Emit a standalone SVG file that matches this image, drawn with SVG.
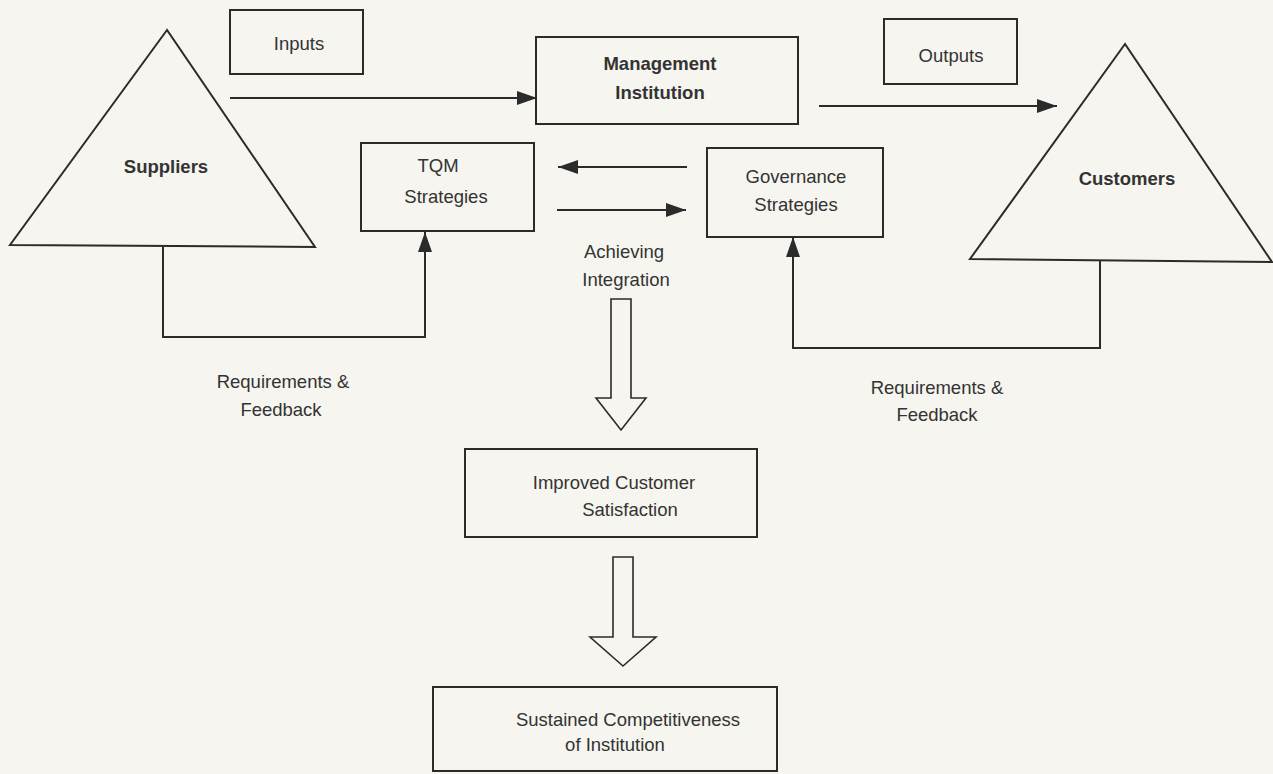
<svg xmlns="http://www.w3.org/2000/svg" width="1273" height="774" viewBox="0 0 1273 774">
  <style>
    .shape { fill: none; stroke: #2b2b2b; stroke-width: 2; }
    .line { fill: none; stroke: #2b2b2b; stroke-width: 2; }
    .hollow { fill: none; stroke: #2b2b2b; stroke-width: 1.6; stroke-linejoin: miter; }
    text { font-family: "Liberation Sans", Arial, sans-serif; font-size: 18.5px; fill: #333; text-anchor: middle; }
    .bold { font-weight: bold; }
  </style>
  <defs>
    <marker id="headL" viewBox="0 0 20 14" refX="20" refY="7" markerWidth="20" markerHeight="14" markerUnits="userSpaceOnUse" orient="auto">
      <path d="M0,0 L20,7 L0,14 Z" fill="#2b2b2b"/>
    </marker>
  </defs>
  <rect width="1273" height="774" fill="#f6f5ef"/>

  <!-- nodes -->
  <g id="suppliers">
    <polygon class="shape" points="167,30 10,245 315,247"/>
    <text class="bold" x="166" y="173">Suppliers</text>
  </g>
  <g id="inputs">
    <rect class="shape" x="230" y="10" width="133" height="64"/>
    <text x="299" y="50">Inputs</text>
  </g>
  <g id="management">
    <rect class="shape" x="536" y="37" width="262" height="87"/>
    <text class="bold" x="660" y="70">Management</text>
    <text class="bold" x="660" y="99">Institution</text>
  </g>
  <g id="outputs">
    <rect class="shape" x="884" y="19" width="133" height="65"/>
    <text x="951" y="62">Outputs</text>
  </g>
  <g id="customers">
    <polygon class="shape" points="1125,44 970,259 1272,262"/>
    <text class="bold" x="1127" y="185">Customers</text>
  </g>
  <g id="tqm">
    <rect class="shape" x="361" y="143" width="173" height="88"/>
    <text x="438" y="172">TQM</text>
    <text x="446" y="203">Strategies</text>
  </g>
  <g id="governance">
    <rect class="shape" x="707" y="148" width="176" height="89"/>
    <text x="796" y="183">Governance</text>
    <text x="796" y="211">Strategies</text>
  </g>
  <g id="integration-label">
    <text x="624" y="258">Achieving</text>
    <text x="626" y="286">Integration</text>
  </g>
  <g id="supplier-feedback-label">
    <text x="283" y="388">Requirements &amp;</text>
    <text x="281" y="416">Feedback</text>
  </g>
  <g id="customer-feedback-label">
    <text x="937" y="394">Requirements &amp;</text>
    <text x="937" y="421">Feedback</text>
  </g>
  <g id="satisfaction">
    <rect class="shape" x="465" y="449" width="292" height="88"/>
    <text x="614" y="489">Improved Customer</text>
    <text x="630" y="516">Satisfaction</text>
  </g>
  <g id="competitiveness">
    <rect class="shape" x="433" y="687" width="344" height="84"/>
    <text x="628" y="726">Sustained Competitiveness</text>
    <text x="615" y="751">of Institution</text>
  </g>

  <!-- connectors -->
  <g id="connectors">
    <line class="line" x1="230" y1="98" x2="537" y2="98" marker-end="url(#headL)"/>
    <line class="line" x1="819" y1="106" x2="1057" y2="106" marker-end="url(#headL)"/>
    <line class="line" x1="687" y1="167" x2="558" y2="167" marker-end="url(#headL)"/>
    <line class="line" x1="557" y1="210" x2="686" y2="210" marker-end="url(#headL)"/>
    <polyline class="line" points="163,247 163,337 425,337 425,232" marker-end="url(#headL)"/>
    <polyline class="line" points="1100,261 1100,348 793,348 793,237" marker-end="url(#headL)"/>
    <polygon class="hollow" points="611,299 631,299 631,398 646,398 621,430 596,398 611,398"/>
    <polygon class="hollow" points="613,557 633,557 633,637 656,637 623,666 590,637 613,637"/>
  </g>
</svg>
